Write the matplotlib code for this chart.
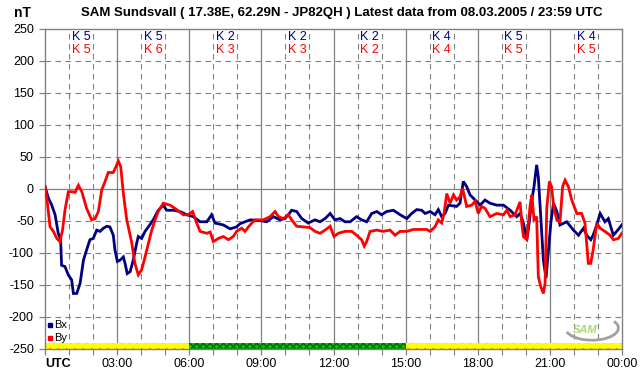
import matplotlib
matplotlib.use("Agg")
import matplotlib.pyplot as plt
from matplotlib.patches import Rectangle, Arc

plt.rcParams['font.family'] = ['Liberation Sans', 'DejaVu Sans']

title = "SAM Sundsvall ( 17.38E, 62.29N - JP82QH ) Latest data from 08.03.2005 / 23:59 UTC"

bx_t = [0, 0.14, 0.28, 0.42, 0.55, 0.65, 0.69, 0.83, 0.97, 1.11, 1.18, 1.32, 1.46, 1.6, 1.73, 1.87,
        2.01, 2.15, 2.29, 2.43, 2.57, 2.7, 2.84, 2.91, 3.01, 3.12, 3.26, 3.33, 3.42, 3.54, 3.67, 3.81,
        3.88, 4.02, 4.16, 4.3, 4.5, 4.71, 4.92, 5.06, 5.34, 5.62, 5.9, 6.17, 6.45, 6.73, 6.93, 7.07,
        7.42, 7.7, 7.97, 8.11, 8.32, 8.53, 8.94, 9.22, 9.5, 9.78, 9.98, 10.12, 10.26, 10.47, 10.68,
        10.95, 11.23, 11.44, 11.65, 11.86, 12.06, 12.27, 12.48, 12.69, 12.96, 13.17, 13.38, 13.59,
        13.8, 14.0, 14.21, 14.49, 14.77, 15.05, 15.25, 15.46, 15.67, 15.81, 16.02, 16.22, 16.36,
        16.5, 16.64, 16.78, 17.12, 17.26, 17.4, 17.54, 17.68, 17.89, 18.1, 18.3, 18.51, 18.79, 19.07,
        19.35, 19.62, 19.76, 19.9, 20.04, 20.11, 20.25, 20.34, 20.45, 20.52, 20.62, 20.73, 20.84,
        20.94, 21.04, 21.15, 21.29, 21.42, 21.7, 21.98, 22.19, 22.4, 22.53, 22.7, 22.8, 22.95, 23.09,
        23.29, 23.43, 23.64, 23.78, 23.99]
bx_v = [3, -15, -26, -41, -70, -80, -120, -122, -135, -143, -164, -164, -148, -112, -96, -80,
        -78, -65, -67, -62, -59, -60, -73, -96, -114, -112, -107, -117, -133, -130, -112, -86,
        -75, -78, -67, -60, -49, -34, -26, -34, -34, -36, -41, -44, -52, -52, -41, -54,
        -57, -63, -60, -55, -52, -49, -50, -52, -44, -49, -47, -41, -34, -36, -47,
        -54, -49, -52, -47, -39, -49, -47, -52, -52, -44, -49, -52, -39,
        -36, -41, -36, -34, -41, -47, -39, -33, -34, -39, -36, -41, -33,
        -44, -39, -26, -28, -23, 11, 3, -10, -18, -26, -18, -23, -26, -26,
        -34, -44, -39, -54, -80, -62, -18, 3, 37, 18, -44, -112, -140,
        -96, -54, -23, -36, -57, -52, -65, -73, -62, -73, -80, -73, -57, -39,
        -52, -47, -73, -67, -57]

by_t = [0, 0.07, 0.21, 0.35, 0.49, 0.62, 0.73, 0.83, 0.97, 1.11, 1.25, 1.39, 1.53, 1.73, 1.94,
        2.08, 2.22, 2.36, 2.5, 2.63, 2.84, 2.95, 3.05, 3.15, 3.26, 3.4, 3.6, 3.74, 3.88, 4.02,
        4.16, 4.3, 4.44, 4.58, 4.71, 4.92, 5.2, 5.48, 5.75, 5.96, 6.14, 6.31, 6.45, 6.73, 6.87,
        7.0, 7.21, 7.42, 7.63, 7.83, 7.97, 8.18, 8.32, 8.46, 8.6, 8.74, 9.08, 9.36, 9.57, 9.71,
        9.91, 10.12, 10.26, 10.47, 10.74, 11.02, 11.23, 11.44, 11.65, 11.86, 12.02, 12.2, 12.48,
        12.76, 12.96, 13.17, 13.28, 13.38, 13.52, 13.8, 14.07, 14.35, 14.56, 14.77, 15.05, 15.32,
        15.6, 15.88, 16.02, 16.22, 16.36, 16.5, 16.6, 16.71, 16.85, 16.99, 17.12, 17.26, 17.37,
        17.54, 17.75, 17.89, 18.02, 18.16, 18.3, 18.51, 18.79, 19.07, 19.21, 19.35, 19.55, 19.76,
        19.83, 19.9, 20.04, 20.18, 20.25, 20.34, 20.45, 20.52, 20.62, 20.73, 20.8, 20.87, 20.98,
        21.07, 21.17, 21.29, 21.42, 21.53, 21.63, 21.77, 21.91, 22.12, 22.32, 22.46, 22.6, 22.7,
        22.8, 22.95, 23.09, 23.29, 23.5, 23.64, 23.85, 23.99]
by_v = [3, -13, -60, -67, -78, -83, -65, -34, -5, -5, -6, 5, -5, -31, -49,
        -47, -36, -2, 11, 25, 25, 34, 43, 34, -8, -49, -83, -117, -135, -127,
        -107, -86, -65, -49, -36, -23, -26, -33, -41, -41, -36, -54, -67, -70, -68,
        -83, -78, -75, -80, -75, -67, -62, -67, -60, -54, -49, -49, -44, -36, -44,
        -47, -41, -49, -59, -60, -61, -67, -70, -65, -59, -75, -70, -67,
        -67, -73, -80, -90, -83, -67, -65, -67, -65, -73, -67, -67, -64,
        -64, -64, -67, -60, -49, -54, -39, -8, -23, -10, -18, -13, 0,
        -28, -26, -20, -39, -28, -31, -44, -39, -41, -34, -44, -41, -21,
        -54, -75, -80, -26, -10, -49, -44, -138, -153, -164, -148, -31, 11,
        3, -31, -49, -52, 3, 13, 3, -18, -39, -39, -54, -117, -117,
        -96, -54, -62, -67, -73, -80, -78, -70]

k_bx = [5, 5, 2, 2, 2, 4, 5, 4]
k_by = [5, 6, 3, 3, 2, 4, 5, 5]

x_labels = ["UTC", "03:00", "06:00", "09:00", "12:00", "15:00", "18:00", "21:00", "00:00"]
y_ticks = [250, 200, 150, 100, 50, 0, -50, -100, -150, -200, -250]

status_start = [0, 6, 15]
status_end = [6, 15, 24]
status_kind = ["yellow", "green", "yellow"]

BLUE = "#000080"
RED = "#ff0000"
GRID = "#808080"

fig = plt.figure(figsize=(6.42, 3.76), dpi=100)
fig.patch.set_facecolor("white")
ax = fig.add_axes([45 / 642, 1 - 348.5 / 376, 577 / 642, 320 / 376])
ax.set_xlim(0, 24)
ax.set_ylim(-250, 250)

for h in range(1, 24):
    if h % 3 == 0:
        ax.axvline(h, color=GRID, lw=0.9, zorder=1)
    else:
        ax.axvline(h, color=GRID, lw=0.8, ls=(0, (5, 4)), zorder=1)
for v in y_ticks[1:-1]:
    if v == 0:
        ax.axhline(v, color=GRID, lw=0.9, zorder=1)
    else:
        ax.axhline(v, color=GRID, lw=0.8, ls=(0, (5, 4)), zorder=1)

# status bar
for s, e, kind in zip(status_start, status_end, status_kind):
    if kind == "yellow":
        r = Rectangle((s, -250), e - s, 9, facecolor="#ffff00", edgecolor="#ff0000",
                      hatch="..", lw=0, zorder=2)
    else:
        r = Rectangle((s, -250), e - s, 9, facecolor="#00c800", edgecolor="#006400",
                      hatch="xxxxx", lw=0, zorder=2)
    ax.add_patch(r)

ax.plot(bx_t, bx_v, color=BLUE, lw=2.0, zorder=4, solid_joinstyle="miter")
ax.plot(by_t, by_v, color=RED, lw=2.0, zorder=5, solid_joinstyle="miter")

for i, (kx, ky) in enumerate(zip(k_bx, k_by)):
    ax.text(3 * i + 1.5, 237, f"K {kx}", color=BLUE, ha="center", va="center", fontsize=9, zorder=6)
    ax.text(3 * i + 1.5, 216, f"K {ky}", color=RED, ha="center", va="center", fontsize=9, zorder=6)

for sp in ax.spines.values():
    sp.set_color(GRID)
    sp.set_linewidth(1.0)

ax.set_yticks(y_ticks)
ax.set_yticklabels([str(v) for v in y_ticks], fontsize=9)
ax.set_xticks(range(0, 25, 3))
ax.set_xticklabels(x_labels, fontsize=9)
ax.get_xticklabels()[0].set_fontweight("bold")
ax.get_xticklabels()[0].set_horizontalalignment("left")
ax.tick_params(axis="both", colors=GRID, labelcolor="black", length=4, width=0.9)
ax.tick_params(axis="x", pad=3)
ax.tick_params(axis="y", pad=4)
ax.set_xticks(range(0, 25), minor=True)
ax.tick_params(axis="x", which="minor", length=4, width=0.8, colors=GRID)

# legend
ax.plot([0.2], [-213], marker="s", ms=3, color=BLUE, ls="none", zorder=6)
ax.text(0.38, -213, "Bx", fontsize=8, va="center", ha="left", zorder=6)
ax.plot([0.2], [-233], marker="s", ms=3, color=RED, ls="none", zorder=6)
ax.text(0.38, -233, "By", fontsize=8, va="center", ha="left", zorder=6)

# logo
ax.text(22.45, -221, "SAM", fontsize=8, style="italic", color="#a8d878", ha="center",
        va="center", fontweight="bold", zorder=6)
ax.add_patch(Arc((22.75, -218), 2.2, 38, theta1=-100, theta2=85, color="#a0a0a0", lw=2.0, zorder=6))

fig.text(342 / 642, 1 - 13 / 376, title, ha="center", va="center", fontsize=9.5, fontweight="bold")
fig.text(22 / 642, 1 - 13 / 376, "nT", ha="center", va="center", fontsize=10, fontweight="bold")

fig.savefig("out.png", dpi=100)
